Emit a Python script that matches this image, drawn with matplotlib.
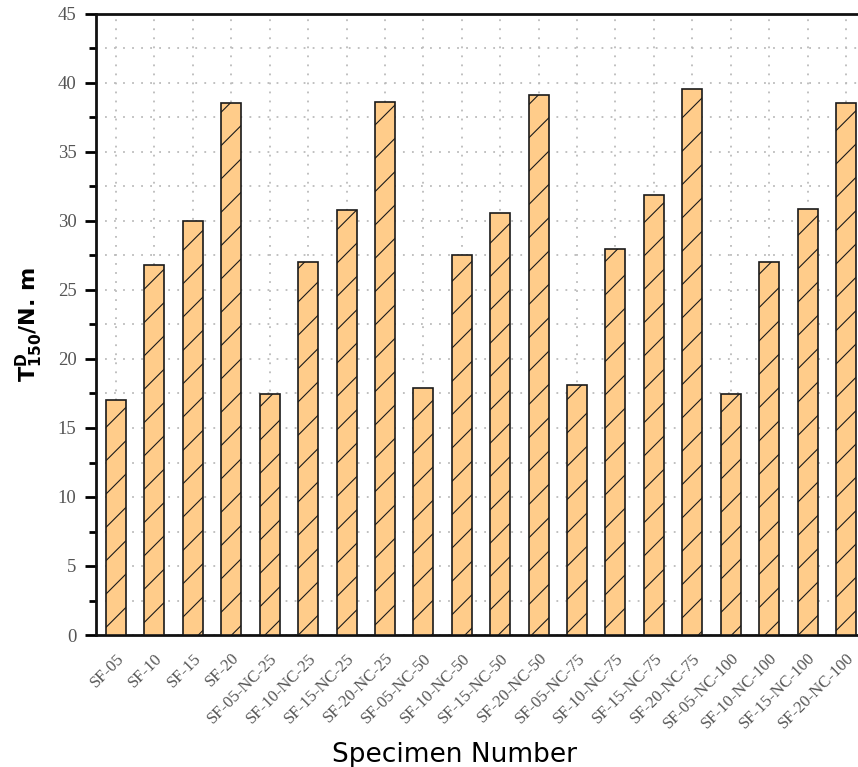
import numpy as np
import matplotlib
matplotlib.use("Agg")
import matplotlib.pyplot as plt
import matplotlib.transforms as mtransforms
from matplotlib.ticker import MultipleLocator

# specimen labels and torque values
specimens = ["SF-05", "SF-10", "SF-15", "SF-20",
             "SF-05-NC-25", "SF-10-NC-25", "SF-15-NC-25", "SF-20-NC-25",
             "SF-05-NC-50", "SF-10-NC-50", "SF-15-NC-50", "SF-20-NC-50",
             "SF-05-NC-75", "SF-10-NC-75", "SF-15-NC-75", "SF-20-NC-75",
             "SF-05-NC-100", "SF-10-NC-100", "SF-15-NC-100", "SF-20-NC-100"]
torque = [17.0, 26.8, 30.0, 38.55,
          17.45, 27.0, 30.8, 38.6,
          17.9, 27.55, 30.55, 39.1,
          18.1, 27.95, 31.9, 39.55,
          17.45, 27.0, 30.85, 38.55]

plt.rcParams['hatch.linewidth'] = 0.8
plt.rcParams['hatch.color'] = "#3a2a1a"

fig = plt.figure(figsize=(8.58, 7.67), dpi=100)
# axes run past the right edge, the original is cropped there
ax = fig.add_axes([96/858, 1-635/767, 770/858, 621/767])

x = np.arange(len(specimens))
ax.bar(x, torque, width=0.52, color="#FFCC8A", edgecolor="#1a1a1a",
       linewidth=1.2, hatch="/", zorder=3)

ax.set_xlim(-0.52, len(specimens) - 0.48)
ax.set_ylim(0, 45)
ax.yaxis.set_major_locator(MultipleLocator(5))
ax.yaxis.set_minor_locator(MultipleLocator(2.5))
ax.set_xticks(x)
ax.set_xticklabels(specimens, rotation=45, ha="right", rotation_mode="anchor",
                   fontsize=12, family="Liberation Serif", color="#555555")
# nudge the rotated labels a bit right, like the original
shift = mtransforms.ScaledTranslation(8/100, 0, fig.dpi_scale_trans)
for lab in ax.get_xticklabels():
    lab.set_transform(lab.get_transform() + shift)
for lab in ax.get_yticklabels():
    lab.set_family("Liberation Serif")
ax.tick_params(axis="y", which="major", length=8, width=2, direction="out",
               labelsize=13.5, labelcolor="#555555", pad=6)
ax.tick_params(axis="y", which="minor", length=5, width=2, direction="out")
ax.tick_params(axis="x", length=0, pad=11)

# dotted grid at every half step and every bar
ax.grid(True, which="both", axis="y", color="#bbbbbb", linestyle=(0, (1, 4)), linewidth=1.3)
ax.grid(True, which="major", axis="x", color="#bbbbbb", linestyle=(0, (1, 4)), linewidth=1.3)
ax.set_axisbelow(True)

for side in ["left", "top", "bottom", "right"]:
    ax.spines[side].set_linewidth(2)
    ax.spines[side].set_color("#111111")

ax.set_xlabel("Specimen Number", fontsize=19, family="DejaVu Sans")
ax.xaxis.set_label_coords((454-96)/770, -0.172)
ax.set_ylabel(r"$\mathbf{T^{D}_{150}}$/N. m", fontsize=16, fontweight="bold",
              family="DejaVu Sans")
ax.yaxis.set_label_coords(-0.066, 0.5)

fig.savefig("out.png", dpi=100)
